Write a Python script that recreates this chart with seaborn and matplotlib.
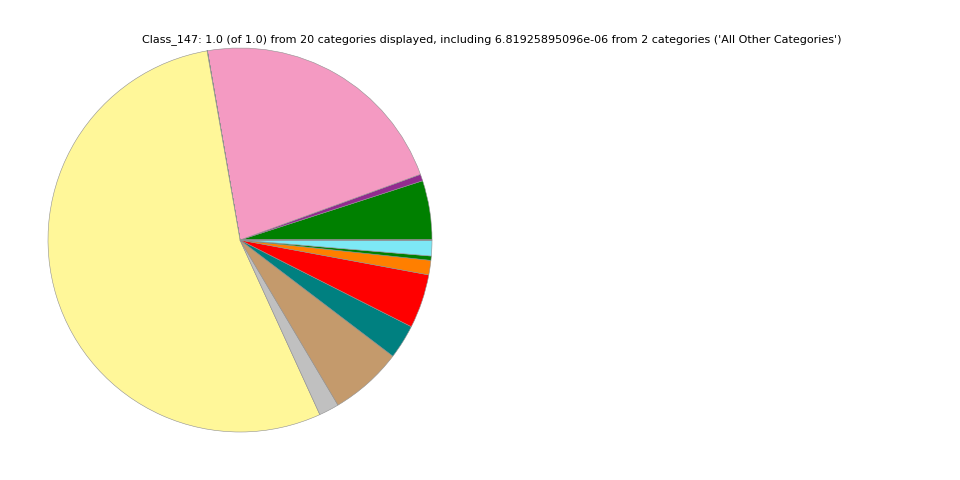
import matplotlib
matplotlib.use('Agg')
import matplotlib.pyplot as plt
import seaborn as sns

# category data, counterclockwise from 3 o'clock
categories = ['Cat_A', 'Cat_B', 'Cat_C', 'Cat_D', 'Cat_E', 'Cat_F', 'Cat_G',
              'Cat_H', 'Cat_I', 'Cat_J', 'Cat_K', 'Cat_L', 'Cat_M', 'Cat_N',
              'Cat_O', 'Cat_P', 'Cat_Q', 'Cat_R', 'Cat_S', 'All Other Categories']
values = [0.0500, 0.0056, 0.2219, 0.00004, 0.00004, 0.00004, 0.00004,
          0.00004, 0.00004, 0.00004, 0.5414, 0.0170, 0.0614, 0.0289,
          0.0455, 0.0122, 0.0036, 0.0133, 0.00003, 0.0000068]
colors = ['#008000', '#922B8F', '#F49AC2', '#8B4513', '#4B0082', '#000080',
          '#808000', '#800000', '#2F4F4F', '#696969', '#FFF799', '#C0C0C0',
          '#C49A6C', '#008080', '#FF0000', '#FF7F00', '#008000', '#7DE8F5',
          '#0000FF', '#808080']

title = ("Class_147: 1.0 (of 1.0) from 20 categories displayed, including "
         "6.81925895096e-06 from 2 categories ('All Other Categories')")

sns.set_style('white')
plt.rcParams['font.family'] = ['DejaVu Sans']

fig = plt.figure(figsize=(9.6, 4.8), dpi=100)
ax = fig.add_axes([0, 0, 0.5, 1])
palette = sns.color_palette(colors)
ax.pie(values, colors=palette, startangle=0, counterclock=True,
       wedgeprops={'edgecolor': '#909090', 'linewidth': 0.4})
ax.set_aspect('equal')

fig.text(492 / 960, 1 - 40 / 480, title, ha='center', va='center',
         fontsize=8, color='black')

fig.savefig('out.png', dpi=100)
